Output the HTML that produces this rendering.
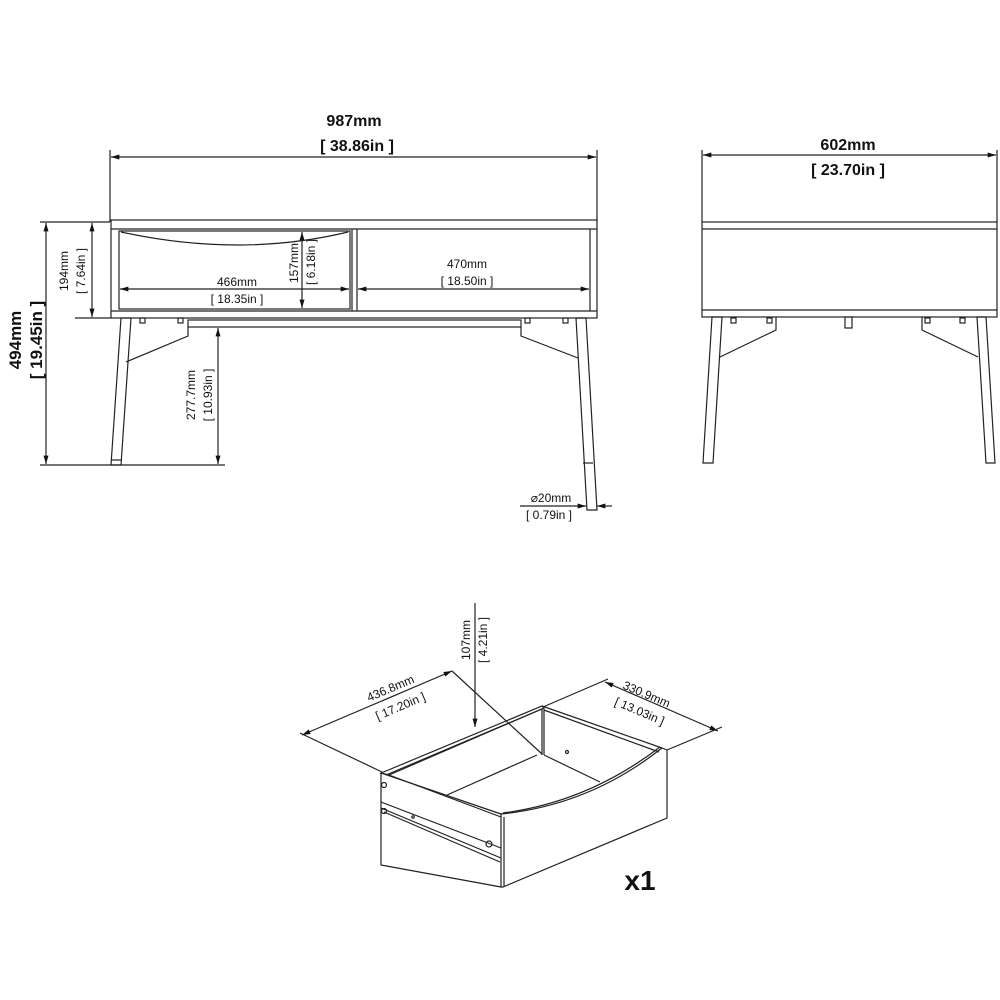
<!DOCTYPE html>
<html><head><meta charset="utf-8"><style>
html,body{margin:0;padding:0;background:#fff}
svg{display:block}
text{font-family:"Liberation Sans",Arial,sans-serif;fill:#111}
.b{font-weight:bold}
</style></head><body>
<svg width="1000" height="1000" viewBox="0 0 1000 1000" xmlns="http://www.w3.org/2000/svg">
<defs>
<marker id="a" viewBox="0 0 10 6" refX="10" refY="3" markerWidth="9" markerHeight="5" orient="auto-start-reverse" markerUnits="userSpaceOnUse"><path d="M0,0 L10,3 L0,6 z" fill="#111"/></marker>
</defs>
<g stroke="#222" stroke-width="1.2" fill="none">
<!-- FRONT VIEW -->
<line x1="110" y1="150" x2="110" y2="222"/><line x1="597" y1="150" x2="597" y2="222"/>
<line x1="111" y1="157" x2="596" y2="157" marker-start="url(#a)" marker-end="url(#a)"/>
<rect x="111" y="220" width="486" height="98"/>
<line x1="111" y1="229" x2="597" y2="229"/>
<line x1="111" y1="311" x2="597" y2="311"/>
<rect x="119" y="231" width="231" height="78"/>
<line x1="352" y1="229" x2="352" y2="311"/><line x1="357" y1="229" x2="357" y2="311"/>
<line x1="590" y1="229" x2="590" y2="311"/>
<path d="M121,232 Q240,258 348,232"/>
<rect x="188" y="320" width="333" height="7"/>
<rect x="140" y="318" width="5" height="5"/><rect x="178" y="318" width="5" height="5"/>
<rect x="525" y="318" width="5" height="5"/><rect x="563" y="318" width="5" height="5"/>
<polyline points="188,327 188,336 126,362"/>
<polyline points="521,327 521,336 578,358"/>
<polygon points="121,318 131,318 121,465 111,465"/>
<line x1="111" y1="460" x2="121" y2="460"/>
<polygon points="576,318 586,318 597,510 587,510"/>
<line x1="583" y1="463" x2="593" y2="463"/>
<line x1="40" y1="222" x2="110" y2="222"/>
<line x1="40" y1="465" x2="225" y2="465"/>
<line x1="75" y1="318" x2="111" y2="318"/>
<line x1="46" y1="223" x2="46" y2="464" marker-start="url(#a)" marker-end="url(#a)"/>
<line x1="92" y1="223" x2="92" y2="317" marker-start="url(#a)" marker-end="url(#a)"/>
<line x1="218" y1="328" x2="218" y2="464" marker-start="url(#a)" marker-end="url(#a)"/>
<line x1="120" y1="289" x2="349" y2="289" marker-start="url(#a)" marker-end="url(#a)"/>
<line x1="302" y1="232" x2="302" y2="308" marker-start="url(#a)" marker-end="url(#a)"/>
<line x1="358" y1="289" x2="589" y2="289" marker-start="url(#a)" marker-end="url(#a)"/>
<line x1="520" y1="506" x2="586" y2="506" marker-end="url(#a)"/>
<line x1="597" y1="506" x2="612" y2="506" marker-start="url(#a)"/>
<!-- SIDE VIEW -->
<line x1="702" y1="150" x2="702" y2="222"/><line x1="997" y1="150" x2="997" y2="222"/>
<line x1="703" y1="155" x2="996" y2="155" marker-start="url(#a)" marker-end="url(#a)"/>
<rect x="702" y="222" width="295" height="95"/>
<line x1="702" y1="229" x2="997" y2="229"/>
<line x1="702" y1="310" x2="997" y2="310"/>
<rect x="845" y="317" width="7" height="11"/>
<rect x="731" y="318" width="5" height="5"/><rect x="767" y="318" width="5" height="5"/>
<rect x="925" y="318" width="5" height="5"/><rect x="960" y="318" width="5" height="5"/>
<polyline points="776,317 776,330 720,357"/>
<polyline points="922,317 922,330 978,357"/>
<polygon points="712,317 722,317 713,463 703,463"/>
<polygon points="977,317 986,317 995,463 986,463"/>
<!-- DRAWER dims -->
<line x1="475" y1="603" x2="475" y2="727" marker-end="url(#a)"/>
<line x1="302" y1="735" x2="452" y2="671" marker-start="url(#a)" marker-end="url(#a)"/>
<line x1="300" y1="733" x2="382" y2="772"/>
<line x1="452" y1="671" x2="542" y2="754"/>
<line x1="605" y1="682" x2="718" y2="731" marker-start="url(#a)" marker-end="url(#a)"/>
<line x1="543" y1="707" x2="608" y2="679"/>
<line x1="667" y1="750" x2="722" y2="727"/>
<!-- drawer body -->
<polygon points="381,773 386,771 542,706 544,708 389,775"/>
<polyline points="386,775 542,709"/>
<line x1="542" y1="709" x2="542" y2="755"/>
<line x1="544" y1="709" x2="544" y2="755"/>
<line x1="537" y1="755" x2="447" y2="795"/>
<line x1="544" y1="755" x2="600" y2="782"/>
<polyline points="542,706 662,748"/>
<polyline points="544,710 659,752"/>
<path d="M501,814 Q590,805 662,748 L667,750 L667,818 L503,887 L501,887 L501,817 Z"/>
<path d="M503,813 Q588,802 660,747"/>
<line x1="504" y1="817" x2="504" y2="886"/>
<polyline points="381,773 381,865 501,887"/>
<line x1="381" y1="773" x2="501" y2="814"/>
<line x1="389" y1="775" x2="501" y2="817"/>
<line x1="381" y1="802" x2="501" y2="848"/>
<line x1="381" y1="808" x2="501" y2="858"/>
<line x1="384" y1="812" x2="500" y2="862"/>
<circle cx="384" cy="785" r="2.5"/><circle cx="384" cy="811" r="2.5"/>
<circle cx="489" cy="844" r="3"/><circle cx="567" cy="752" r="1.5"/>
<circle cx="413" cy="817" r="1.2"/>
</g>
<text x="354" y="126" font-size="16" text-anchor="middle" class="b">987mm</text>
<text x="357" y="151" font-size="16" text-anchor="middle" class="b">[ 38.86in ]</text>
<text x="848" y="150" font-size="16" text-anchor="middle" class="b">602mm</text>
<text x="848" y="175" font-size="16" text-anchor="middle" class="b">[ 23.70in ]</text>
<text transform="translate(21,340) rotate(-90)" font-size="17" text-anchor="middle" class="b">494mm</text>
<text transform="translate(42,340) rotate(-90)" font-size="17" text-anchor="middle" class="b">[ 19.45in ]</text>
<text transform="translate(68,271) rotate(-90)" font-size="12" text-anchor="middle">194mm</text>
<text transform="translate(85,271) rotate(-90)" font-size="12" text-anchor="middle">[ 7.64in ]</text>
<text transform="translate(195,395) rotate(-90)" font-size="12" text-anchor="middle">277.7mm</text>
<text transform="translate(212,395) rotate(-90)" font-size="12" text-anchor="middle">[ 10.93in ]</text>
<text transform="translate(298,263) rotate(-90)" font-size="12" text-anchor="middle">157mm</text>
<text transform="translate(315,262) rotate(-90)" font-size="12" text-anchor="middle">[ 6.18in ]</text>
<text x="237" y="286" font-size="12" text-anchor="middle">466mm</text>
<text x="237" y="303" font-size="12" text-anchor="middle">[ 18.35in ]</text>
<text x="467" y="268" font-size="12" text-anchor="middle">470mm</text>
<text x="467" y="285" font-size="12" text-anchor="middle">[ 18.50in ]</text>
<text x="551" y="502" font-size="12" text-anchor="middle">⌀20mm</text>
<text x="549" y="519" font-size="12" text-anchor="middle">[ 0.79in ]</text>
<text transform="translate(470,640) rotate(-90)" font-size="12" text-anchor="middle">107mm</text>
<text transform="translate(487,640) rotate(-90)" font-size="12" text-anchor="middle">[ 4.21in ]</text>
<text transform="translate(392,692) rotate(-23)" font-size="12" text-anchor="middle">436.8mm</text>
<text transform="translate(402,710) rotate(-23)" font-size="12" text-anchor="middle">[ 17.20in ]</text>
<text transform="translate(645,698) rotate(23)" font-size="12" text-anchor="middle">330.9mm</text>
<text transform="translate(638,715) rotate(23)" font-size="12" text-anchor="middle">[ 13.03in ]</text>
<text x="640" y="890" font-size="28" text-anchor="middle" class="b">x1</text>
</svg>
</body></html>
